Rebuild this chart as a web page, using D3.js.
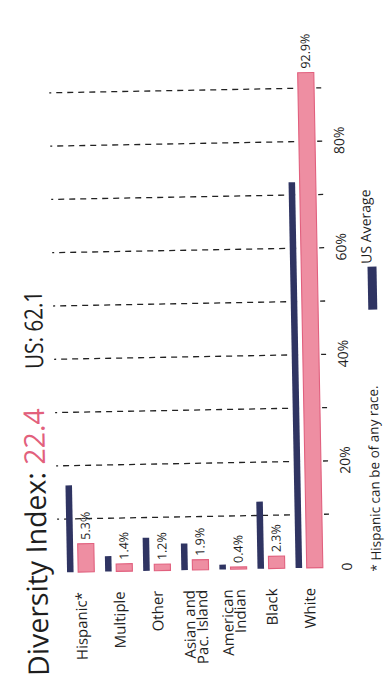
<!DOCTYPE html>
<html>
<head>
<meta charset="utf-8">
<script src="https://cdn.jsdelivr.net/npm/d3@7"></script>
<style>
  html, body { margin: 0; padding: 0; background: #ffffff; }
  svg { display: block; }
</style>
</head>
<body>
<script>
// Race / ethnicity shares: local area vs. US average (percent)
const categories = ["Hispanic*", "Multiple", "Other", "Asian and\nPac. Island", "American\nIndian", "Black", "White"];
const localShare = [5.3, 1.4, 1.2, 1.9, 0.4, 2.3, 92.9];
const usShare = [16.3, 2.9, 6.2, 5.0, 0.9, 12.6, 72.4];
const gridValues = [10, 20, 30, 40, 50, 60, 70, 80, 90];
const tickValues = [0, 20, 40, 60, 80];
const tickLabels = ["0", "20%", "40%", "60%", "80%"];
const diversityIndex = "22.4";
const usIndex = "62.1";
const legendLabel = "US Average";
const footnote = "* Hispanic can be of any race.";

const W = 385, H = 686;
const FONT = "'Open Sans', 'DejaVu Sans', sans-serif";
const NAVY = "#2f3462", PINK = "#ee8ea2", PINK_EDGE = "#e1607e", INK = "#1e1e1e";

const svg = d3.select("body").append("svg")
  .attr("width", W).attr("height", H)
  .attr("viewBox", `0 0 ${W} ${H}`);

// The chart is laid out as a horizontal bar chart in a frame turned a quarter
// turn counter-clockwise: frame x runs up the page, frame y runs across it.
const root = svg.append("g")
  .attr("transform", `rotate(-1.05,192,568) translate(0,${H}) rotate(-90)`);

const x = d3.scaleLinear().domain([0, 100]).range([116, 649]);
const band = d3.scaleBand().domain(categories).range([67, 323.4]).paddingInner(0.27).paddingOuter(0);
const bw = band.bandwidth();
const blueW = bw * 0.235, pinkOff = bw * 0.4, pinkW = bw * 0.58;

// dashed gridlines
root.append("g").selectAll("line")
  .data(gridValues).join("line")
  .attr("x1", d => x(d)).attr("x2", d => x(d))
  .attr("y1", 58).attr("y2", 330)
  .attr("stroke", "#222").attr("stroke-width", 1.3)
  .attr("stroke-dasharray", "2,5,6,5,6,5,6,5,6,5,6,5,6,5,6,5,6,5,6,5,6,5,6,5,6,5,6,5,6,5,6,5,6,5,6,5,6,5,6,5,6,5,6,5,6,5");

const rows = categories.map((c, i) => ({ c, local: localShare[i], us: usShare[i] }));

// US average bars
root.append("g").selectAll("rect")
  .data(rows).join("rect")
  .attr("x", x(0)).attr("y", d => band(d.c))
  .attr("width", d => x(d.us) - x(0)).attr("height", blueW)
  .attr("fill", NAVY);

// local bars
root.append("g").selectAll("rect")
  .data(rows).join("rect")
  .attr("x", x(0)).attr("y", d => band(d.c) + pinkOff)
  .attr("width", d => x(d.local) - x(0)).attr("height", pinkW)
  .attr("fill", PINK).attr("stroke", PINK_EDGE).attr("stroke-width", 1.1);

// value labels
root.append("g").selectAll("text")
  .data(rows).join("text")
  .attr("x", d => x(d.local) + 4)
  .attr("y", d => band(d.c) + pinkOff + pinkW / 2)
  .attr("dy", "0.35em")
  .attr("font-family", FONT).attr("font-size", 12.5).attr("fill", INK)
  .text(d => d.local.toFixed(1) + "%");

// category labels
const cat = root.append("g").selectAll("text")
  .data(rows).join("text")
  .attr("x", 96)
  .attr("y", d => band(d.c) + bw / 2)
  .attr("text-anchor", "end")
  .attr("font-family", FONT).attr("font-size", 15).attr("fill", INK);
cat.each(function(d) {
  const lines = d.c.split("\n");
  const t = d3.select(this);
  const lh = 12.5;
  lines.forEach((ln, k) => {
    t.append("tspan")
      .attr("x", 96)
      .attr("y", band(d.c) + bw / 2 + (k - (lines.length - 1) / 2) * lh)
      .attr("dy", "0.35em")
      .text(ln);
  });
});

// value axis labels
const axis = root.append("g")
  .attr("transform", "translate(0,347)")
  .call(d3.axisBottom(x).tickValues(tickValues).tickSize(0).tickFormat((d, i) => tickLabels[i]));
axis.select(".domain").remove();
axis.selectAll("text")
  .attr("y", 0).attr("dy", "0.35em")
  .attr("font-family", FONT).attr("font-size", 14).attr("fill", INK);

// title
const title = root.append("g")
  .attr("font-family", FONT).attr("fill", INK);
const main = title.append("text")
  .attr("x", H - 673).attr("y", 47)
  .attr("font-size", 28.5);
main.append("tspan").text("Diversity Index: ");
main.append("tspan").attr("fill", "#e2607c").text(diversityIndex);
title.append("text")
  .attr("x", H - 366).attr("y", 47)
  .attr("font-size", 25)
  .attr("textLength", 78).attr("lengthAdjust", "spacingAndGlyphs")
  .text("US: " + usIndex);

// legend
root.append("rect")
  .attr("x", H - 313).attr("y", 373).attr("width", 43).attr("height", 9)
  .attr("fill", NAVY);
root.append("text")
  .attr("x", H - 267).attr("y", 377)
  .attr("font-family", FONT).attr("font-size", 14).attr("fill", INK)
  .text(legendLabel);

// footnote
root.append("text")
  .attr("x", H - 575).attr("y", 381)
  .attr("font-family", FONT).attr("font-size", 13.5).attr("fill", INK)
  .text(footnote);
</script>
</body>
</html>
